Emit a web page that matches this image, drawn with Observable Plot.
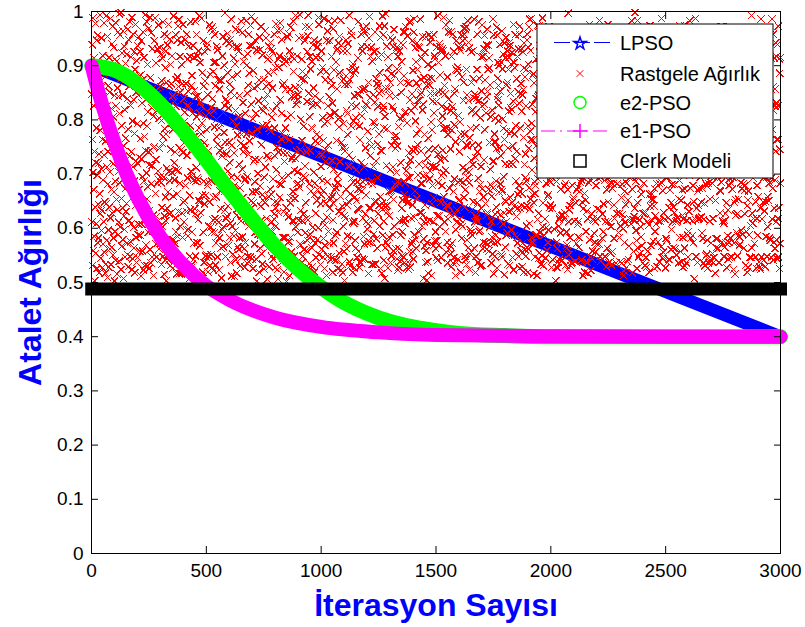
<!DOCTYPE html>
<html>
<head>
<meta charset="utf-8">
<script src="https://cdn.jsdelivr.net/npm/d3@7"></script>
<script src="https://cdn.jsdelivr.net/npm/@observablehq/plot@0.6"></script>
<style>
  html, body { margin: 0; padding: 0; background: #fff; }
  #chart svg { display: block; }
</style>
</head>
<body>
<div id="chart"></div>
<script>
// Axis ticks and titles
const iterTicks = [0, 500, 1000, 1500, 2000, 2500, 3000];
const weightTicks = [0, 0.1, 0.2, 0.3, 0.4, 0.5, 0.6, 0.7, 0.8, 0.9, 1];
const xTitle = "İterasyon Sayısı";
const yTitle = "Atalet Ağırlığı";

// Series names and colours, in legend order
const seriesNames = ["LPSO", "Rastgele Ağırlık", "e2-PSO", "e1-PSO", "Clerk Modeli"];
const seriesColors = ["#0000ff", "#ff0000", "#00ff00", "#ff00ff", "#000000"];

// LPSO: linearly decreasing inertia weight
const lpsoIter = [1, 3000];
const lpsoW = [0.9, 0.4];

// e2-PSO inertia weight
const e2Iter = [1, 100, 200, 300, 400, 500, 600, 700, 800, 900, 1000, 1100, 1200, 1300, 1400, 1500, 1600, 1800, 2000, 2500, 3000];
const e2W = [0.900, 0.892, 0.867, 0.829, 0.780, 0.726, 0.670, 0.617, 0.567, 0.525, 0.491, 0.463, 0.443, 0.428, 0.418, 0.411, 0.406, 0.402, 0.400, 0.400, 0.400];

// e1-PSO inertia weight
const e1Iter = [1, 25, 50, 100, 150, 200, 300, 400, 500, 600, 800, 1000, 1250, 1500, 2000, 2500, 3000];
const e1W = [0.900, 0.860, 0.823, 0.758, 0.703, 0.657, 0.584, 0.532, 0.494, 0.468, 0.435, 0.418, 0.408, 0.403, 0.401, 0.400, 0.400];

// Clerk model: constant weight
const clerkIter = [1, 3000];
const clerkW = [0.488, 0.488];

// Random inertia weight for iterations 1..3000 (in thousandths)
const randomW = [
847,612,939,531,764,988,703,559,826,671,914,585,742,503,867,639,978,721,554,893,608,785,947,526,698,831,573,956,644,719,
582,906,737,518,859,664,993,627,781,545,872,709,596,951,633,808,527,764,918,689,571,843,612,979,735,556,884,649,902,517,
761,534,887,645,992,578,713,826,509,954,681,742,863,597,528,915,776,639,851,562,704,987,619,748,533,896,672,821,565,940,
628,973,551,806,719,582,934,667,845,503,758,912,594,687,979,541,826,653,771,908,516,634,859,727,962,588,705,843,611,996,
539,812,684,957,603,741,876,524,998,655,789,567,923,711,846,579,638,964,507,752,885,623,936,598,819,673,547,904,766,631,
875,646,921,573,708,839,552,967,614,783,529,948,697,862,615,733,981,548,694,827,575,916,741,609,868,524,989,657,798,544,
713,958,602,837,564,926,687,775,518,893,642,976,583,724,851,537,909,666,793,546,937,719,588,845,671,953,607,731,882,558,
926,587,765,649,883,512,946,728,607,831,695,558,874,639,962,794,523,687,915,628,769,531,858,994,616,743,569,837,702,981,
654,789,531,902,677,815,593,741,969,526,854,717,633,989,561,878,744,609,536,961,682,823,547,716,931,595,858,624,749,513,
807,543,946,618,751,597,988,664,835,571,727,905,622,547,817,683,931,572,849,706,614,975,689,562,803,747,933,578,695,862,
571,921,684,799,533,872,638,914,756,603,981,548,769,836,694,515,958,623,784,541,896,658,927,614,774,503,869,711,955,637,
938,667,813,552,976,704,541,863,627,949,688,814,531,902,746,628,867,793,557,918,703,579,844,782,527,659,992,846,578,721,
689,834,572,741,619,957,825,593,708,874,516,663,947,585,879,973,542,706,862,631,985,749,516,683,917,851,604,538,789,943,
516,745,902,628,867,583,739,976,648,521,839,796,612,758,534,651,814,948,679,775,529,867,631,958,597,734,826,693,912,586,
853,598,763,936,507,824,661,548,917,789,634,981,705,527,863,746,593,882,534,697,812,937,768,542,689,915,573,854,636,769,
627,982,549,687,843,712,958,806,574,693,918,573,844,689,616,927,785,651,992,813,568,648,906,833,751,629,774,512,987,825,
794,661,887,519,726,946,593,687,862,537,758,645,926,872,748,549,661,807,727,546,934,782,551,679,941,846,519,685,743,604,
548,813,727,975,648,531,884,719,602,968,823,551,687,593,971,839,528,964,615,889,657,523,817,906,592,787,957,618,863,532,
906,573,658,801,936,769,615,547,929,755,586,874,611,785,523,694,857,582,743,669,874,793,636,564,873,508,694,733,598,918,
672,739,954,566,814,603,777,901,668,826,634,997,759,548,838,618,945,737,571,833,622,959,705,887,641,822,568,941,675,759,
583,866,721,609,948,537,852,694,986,512,753,879,604,935,671,552,798,663,914,586,739,511,845,679,903,596,817,967,542,788,
935,624,517,884,693,772,566,934,637,805,927,561,718,845,582,966,674,531,808,757,613,982,546,773,623,961,709,584,832,657,
741,908,646,753,562,917,689,528,812,691,574,746,983,617,774,901,536,849,695,922,548,864,736,604,958,538,886,761,618,937,
618,547,974,636,829,651,991,775,543,938,667,802,526,891,647,723,859,608,571,984,686,727,593,947,812,668,543,929,771,502,
862,783,595,927,701,589,835,607,874,726,519,953,678,563,929,588,641,972,754,615,821,553,919,662,534,789,652,817,596,874,
525,694,838,572,964,824,647,713,951,583,862,618,791,734,506,847,912,563,887,729,658,936,784,529,867,915,597,672,943,611,
779,931,663,805,548,612,926,859,594,816,691,543,889,617,958,627,785,734,649,527,897,604,638,977,708,552,826,749,524,965,
647,506,912,741,629,897,553,682,918,657,979,837,562,965,681,764,537,948,812,693,544,775,864,583,739,904,631,519,868,723,
912,768,583,856,785,543,907,638,767,502,739,628,953,804,573,912,698,621,576,958,763,927,512,856,647,583,971,809,656,548,
556,843,729,614,917,734,668,982,531,889,614,912,707,549,843,655,859,993,728,603,829,536,681,742,918,836,704,593,847,682,
838,615,951,527,676,862,994,571,745,633,801,569,876,688,912,537,762,614,889,548,697,953,626,788,561,874,627,946,715,592,
693,972,647,883,559,741,618,834,926,578,955,748,615,993,527,849,971,682,535,806,917,589,743,894,669,518,786,832,564,908,
529,784,826,602,938,577,859,703,662,947,519,683,844,572,761,628,546,915,773,934,651,828,579,672,935,757,943,601,989,737,
976,551,692,768,837,915,533,645,889,714,662,927,561,736,688,897,804,547,669,581,762,614,987,526,793,606,568,874,723,646,
744,889,513,947,621,686,797,964,548,826,753,594,982,658,843,572,637,946,808,716,542,873,654,917,548,863,725,659,831,519,
615,646,968,573,709,892,542,813,671,983,587,814,676,907,541,762,928,593,683,857,931,697,526,801,684,942,631,787,554,954,
887,723,804,659,984,523,758,627,937,534,872,641,749,518,927,604,793,875,557,623,749,504,866,743,618,572,881,947,672,817,
562,927,643,812,586,773,941,866,715,649,735,993,538,874,663,889,531,716,964,789,584,828,692,956,897,727,519,612,903,685,
798,609,887,527,844,657,613,578,892,804,563,708,825,651,792,546,847,685,636,914,672,981,557,634,528,846,789,681,537,763,
671,854,536,958,721,935,807,669,543,927,686,856,619,968,585,713,962,571,819,543,858,627,748,829,661,973,612,963,827,598,
935,572,779,684,608,517,869,951,638,762,991,574,734,841,917,638,582,934,751,687,533,908,681,574,796,533,846,714,589,926,
614,795,649,833,962,788,534,724,876,581,649,928,867,563,694,824,755,627,862,915,774,642,849,973,604,887,658,526,952,743,
853,638,921,517,743,646,992,587,819,957,826,613,541,785,642,973,508,806,564,639,996,857,574,716,936,642,783,878,631,569,
527,916,668,896,584,857,623,845,669,708,537,869,952,658,885,549,669,753,947,824,588,713,935,653,558,818,967,604,769,882,
762,681,843,747,929,562,771,703,934,543,894,752,686,917,523,788,891,528,683,562,927,614,803,539,869,721,587,942,851,637,
907,549,594,652,806,938,615,962,547,881,662,536,814,609,962,684,617,972,815,706,654,869,527,794,647,955,693,538,716,524,
648,867,739,981,557,693,837,528,726,619,983,817,571,746,848,576,946,643,557,891,742,543,962,621,986,588,824,669,933,798,
579,746,907,563,868,774,942,655,893,836,754,698,935,862,594,719,836,782,934,629,847,986,683,875,743,629,851,914,604,683,
818,953,624,829,697,507,581,878,612,773,568,924,643,537,716,953,559,699,863,504,574,729,613,538,902,766,517,745,876,957,
691,615,864,706,943,849,716,796,952,513,877,645,781,897,679,834,714,568,612,957,813,656,918,849,577,912,748,593,562,712,
546,834,577,934,623,736,992,541,684,906,736,569,852,623,941,603,883,935,726,648,928,794,546,697,825,679,931,807,744,851,
927,702,989,658,784,612,863,729,848,647,594,918,707,975,556,785,642,821,574,879,536,617,773,962,641,838,562,674,983,628,
783,568,746,817,553,962,529,917,573,781,824,683,958,536,813,668,927,546,849,791,691,857,626,513,759,597,894,946,611,537,
634,891,612,543,897,685,808,651,934,887,653,741,617,796,687,928,519,774,608,957,762,582,935,879,603,946,685,712,836,968,
869,657,958,774,639,548,671,968,706,542,972,533,893,754,578,846,752,693,983,564,836,943,704,684,932,524,767,553,597,784,
592,925,726,869,926,817,587,753,635,819,718,876,649,928,841,563,986,612,847,731,623,518,813,548,786,839,619,893,958,647,
741,613,537,692,754,981,836,594,877,668,597,804,531,681,916,714,637,853,532,826,975,673,562,917,658,574,932,658,726,829,
956,782,874,931,573,646,929,813,561,938,843,625,967,852,629,893,571,938,672,914,558,896,758,603,864,709,681,806,536,575,
613,536,659,584,818,723,553,674,986,724,516,957,759,573,774,548,803,626,759,587,687,747,639,971,527,956,843,575,877,906,
837,863,798,827,667,901,748,939,625,853,682,734,613,906,552,672,964,547,894,668,801,608,921,784,695,628,514,942,764,652,
565,719,914,649,952,587,613,864,779,592,927,869,748,534,893,816,631,915,718,943,532,937,657,823,849,778,903,633,597,819,
924,648,546,752,718,834,976,523,906,641,774,587,896,643,728,957,789,687,553,622,876,742,584,636,573,917,662,852,931,548,
679,958,831,973,526,668,785,637,848,867,559,642,931,816,664,529,846,572,925,856,768,519,896,942,718,639,879,561,693,737,
548,826,687,604,893,947,642,958,519,789,934,903,562,748,971,675,609,986,635,779,654,928,573,764,987,583,794,708,829,662,
882,574,763,885,647,516,868,729,686,547,664,815,679,587,839,912,752,838,587,513,974,616,843,691,544,846,628,973,555,914,
715,937,592,718,962,784,533,817,934,873,716,549,988,925,603,647,531,714,945,863,587,852,716,915,617,892,545,748,683,861,
601,682,944,559,814,659,956,574,662,597,843,972,638,754,861,782,926,643,821,685,736,694,528,852,775,637,813,936,542,776,
957,753,817,836,598,873,708,696,891,919,503,787,716,528,686,574,838,562,763,527,912,538,957,604,879,543,966,617,788,621,
824,591,672,943,731,624,859,928,541,776,867,624,958,879,743,919,617,849,678,941,628,861,749,683,532,726,864,593,918,563,
569,866,524,671,857,997,612,551,763,634,729,851,583,642,954,531,764,905,536,798,849,716,679,537,926,852,652,823,657,942,
736,613,937,804,539,765,884,647,928,856,572,918,671,957,607,828,946,584,676,612,565,923,802,944,668,583,914,758,854,684,
893,932,689,542,926,648,537,812,694,513,947,636,803,732,884,664,519,753,897,835,743,652,594,871,725,967,537,632,721,517,
618,748,858,765,684,911,763,976,579,689,802,768,547,861,522,954,796,627,543,964,891,558,739,617,858,614,783,869,591,876,
952,574,612,936,833,557,679,728,843,967,636,571,924,618,749,693,872,938,708,571,634,983,863,548,694,924,849,539,964,738,
774,829,743,582,626,808,921,594,645,825,957,846,688,774,969,548,612,821,889,746,917,529,671,792,937,563,702,976,648,612,
537,693,968,719,952,682,538,866,913,554,719,603,867,532,683,807,937,674,557,896,682,814,958,643,581,738,618,873,801,943,
846,957,536,854,761,928,837,627,781,682,894,934,757,846,592,961,734,583,821,628,538,768,604,915,847,876,952,657,536,796,
681,625,824,617,599,513,747,958,521,937,574,668,611,924,837,643,527,965,742,683,795,957,824,539,711,652,543,789,912,567,
929,784,693,969,873,847,616,705,863,608,839,782,983,672,518,782,894,616,934,557,873,622,719,886,637,998,827,614,859,687,
596,857,578,742,526,694,983,564,647,782,702,547,839,758,896,615,553,847,673,829,603,946,584,663,955,568,734,943,627,815,
812,536,917,683,914,782,627,893,952,531,927,854,629,546,712,934,789,528,958,612,741,558,927,748,819,882,606,519,743,952,
663,974,641,807,654,568,852,737,616,878,663,615,971,804,653,576,862,702,641,938,526,859,673,594,623,714,937,854,608,683,
927,718,853,529,771,939,575,614,796,964,749,891,538,682,947,829,613,893,776,566,987,684,817,936,546,893,669,781,919,556,
548,629,786,962,843,617,948,803,527,694,581,736,862,913,578,694,958,537,824,719,619,895,543,742,868,638,826,542,671,827,
784,893,561,647,598,867,722,681,849,612,918,564,707,639,861,754,629,743,681,847,758,562,946,873,612,957,551,968,835,614,
619,752,942,878,725,536,654,963,583,847,688,973,842,557,732,918,806,652,913,538,893,671,624,528,749,583,793,617,753,893,
975,564,673,531,966,792,914,536,928,765,537,823,614,926,643,587,547,968,594,788,631,927,814,697,983,826,674,908,582,743,
702,831,896,728,614,953,587,748,679,573,852,649,782,507,876,968,734,823,857,616,987,548,755,836,637,745,946,537,864,669,
857,642,617,904,837,674,823,619,814,931,694,963,875,648,942,621,862,591,674,962,702,864,581,956,536,617,862,729,646,918,
531,918,758,682,549,887,745,893,552,678,811,578,526,789,683,536,775,945,539,729,843,613,932,654,907,859,573,696,934,539,
746,683,964,553,782,618,962,537,926,855,546,931,694,862,517,892,651,736,828,581,564,927,767,813,581,694,928,842,563,784,
893,537,826,907,669,843,628,784,669,703,972,685,817,574,963,748,928,613,972,847,698,736,609,548,963,735,614,565,897,627,
627,859,573,647,938,527,856,927,817,586,634,857,543,938,679,574,819,864,546,692,917,582,879,684,728,853,547,937,672,951,
968,716,694,835,524,761,914,573,648,943,785,516,964,653,831,624,955,592,746,903,627,858,549,937,586,916,782,654,814,568,
584,932,847,571,873,956,684,811,596,752,897,673,812,738,589,963,682,745,917,563,835,669,743,627,817,679,963,532,748,839,
715,594,962,796,642,519,839,652,963,528,669,938,588,893,726,547,837,928,605,814,958,546,872,993,564,847,628,874,609,693,
852,769,618,938,717,847,572,938,734,864,547,794,649,526,951,812,618,679,863,736,587,914,658,734,896,538,746,813,957,528,
637,883,743,524,986,639,725,547,879,617,928,863,734,917,648,693,957,541,784,632,872,713,529,864,649,927,585,693,876,742,
923,548,869,658,603,791,934,683,651,959,734,582,957,684,823,578,762,914,857,547,693,826,986,617,782,674,861,958,541,817,
574,826,637,914,857,563,689,826,942,742,612,917,831,579,764,939,543,826,618,973,764,547,638,913,526,886,746,572,683,915
];

// Build tables for the library from the arrays above
const zip = (xs, ys) => xs.map((x, i) => ({iter: x, w: ys[i]}));
const lpso = zip(lpsoIter, lpsoW);
const e2 = zip(e2Iter, e2W);
const e1 = zip(e1Iter, e1W);
const clerk = zip(clerkIter, clerkW);
const randomPts = randomW.map((v, i) => ({iter: i + 1, w: v / 1000}));

const font = "'Liberation Sans', Arial, Helvetica, sans-serif";

const svg = Plot.plot({
  width: 805,
  height: 627,
  marginTop: 11,
  marginRight: 25,
  marginBottom: 74,
  marginLeft: 91,
  style: {fontFamily: font, fontSize: "19px", color: "#000", background: "#fff", overflow: "visible"},
  x: {domain: [0, 3000]},
  y: {domain: [0, 1]},
  marks: [
    Plot.line(lpso, {x: "iter", y: "w", stroke: seriesColors[0], strokeWidth: 13, strokeLinecap: "round"}),
    Plot.dot(randomPts, {x: "iter", y: "w", symbol: "times", r: 3.4, stroke: seriesColors[1], fill: "none", strokeWidth: 1, shapeRendering: "crispEdges"}),
    Plot.line(e2, {x: "iter", y: "w", curve: "monotone-x", stroke: seriesColors[2], strokeWidth: 15, strokeLinecap: "round"}),
    Plot.line(e1, {x: "iter", y: "w", curve: "monotone-x", stroke: seriesColors[3], strokeWidth: 14, strokeLinecap: "round"}),
    Plot.line(clerk, {x: "iter", y: "w", stroke: seriesColors[4], strokeWidth: 13, strokeLinecap: "square"}),
    Plot.axisX(iterTicks, {anchor: "bottom", tickSize: -7, tickPadding: 17, tickFormat: (d) => String(d), label: null}),
    Plot.axisX(iterTicks, {anchor: "top", tickSize: -7, tickFormat: () => "", label: null}),
    Plot.axisY(weightTicks, {anchor: "left", tickSize: -7, tickPadding: 15, tickFormat: (d) => String(d), label: null}),
    Plot.axisY(weightTicks, {anchor: "right", tickSize: -7, tickFormat: () => "", label: null}),
    Plot.frame({stroke: "#000"}),
    Plot.text([yTitle], {text: (d) => d, frameAnchor: "left", textAnchor: "middle", lineAnchor: "middle", rotate: -90, dx: -61, fontSize: 32, fontWeight: "bold", fill: "#0000ff"}),
    Plot.text([xTitle], {text: (d) => d, frameAnchor: "bottom", textAnchor: "middle", lineAnchor: "middle", dy: 52, fontSize: 32, fontWeight: "bold", fill: "#0000ff"})
  ]
});

document.getElementById("chart").append(svg);

const root = d3.select(svg);

// Legend box in the upper right of the plot area
const legend = root.append("g")
  .attr("font-family", font).attr("font-size", 20).attr("text-anchor", "start");
legend.append("rect")
  .attr("x", 537).attr("y", 24).attr("width", 236).attr("height", 154)
  .attr("fill", "#fff").attr("stroke", "#000");
const rowY = [42.5, 73.5, 102.5, 131, 161];
const symX = 580;
seriesNames.forEach((name, i) => {
  legend.append("text").attr("x", 620).attr("y", rowY[i]).attr("dy", "0.35em")
    .attr("text-anchor", "start").attr("fill", "#000").text(name);
});
// LPSO: dashed line with star
legend.append("path").attr("d", `M554,${rowY[0]}H612`)
  .attr("stroke", seriesColors[0]).attr("stroke-width", 1).attr("stroke-dasharray", "16,4").attr("fill", "none");
legend.append("path").attr("d", d3.symbol(d3.symbolStar, 48)())
  .attr("transform", `translate(${symX},${rowY[0] + 1})`)
  .attr("stroke", seriesColors[0]).attr("stroke-width", 1.5).attr("fill", "none");
// Random weight: x marker
legend.append("path")
  .attr("d", `M${symX - 3.3},${rowY[1] - 3.3}L${symX + 3.3},${rowY[1] + 3.3}M${symX - 3.3},${rowY[1] + 3.3}L${symX + 3.3},${rowY[1] - 3.3}`)
  .attr("stroke", seriesColors[1]).attr("stroke-width", 1).attr("fill", "none");
// e2-PSO: circle
legend.append("circle").attr("cx", symX).attr("cy", rowY[2]).attr("r", 6)
  .attr("stroke", seriesColors[2]).attr("stroke-width", 1.5).attr("fill", "none");
// e1-PSO: dash-dot line with plus
legend.append("path").attr("d", `M541,${rowY[3]}H612`)
  .attr("stroke", seriesColors[3]).attr("stroke-width", 1).attr("stroke-dasharray", "14,5,2,5").attr("fill", "none");
legend.append("path").attr("d", `M${symX - 7},${rowY[3]}H${symX + 7}M${symX},${rowY[3] - 7}V${rowY[3] + 7}`)
  .attr("stroke", seriesColors[3]).attr("stroke-width", 1.5).attr("fill", "none");
// Clerk model: square
legend.append("rect").attr("x", symX - 6).attr("y", rowY[4] - 6).attr("width", 12).attr("height", 12)
  .attr("stroke", seriesColors[4]).attr("stroke-width", 1.5).attr("fill", "none");
</script>
</body>
</html>
